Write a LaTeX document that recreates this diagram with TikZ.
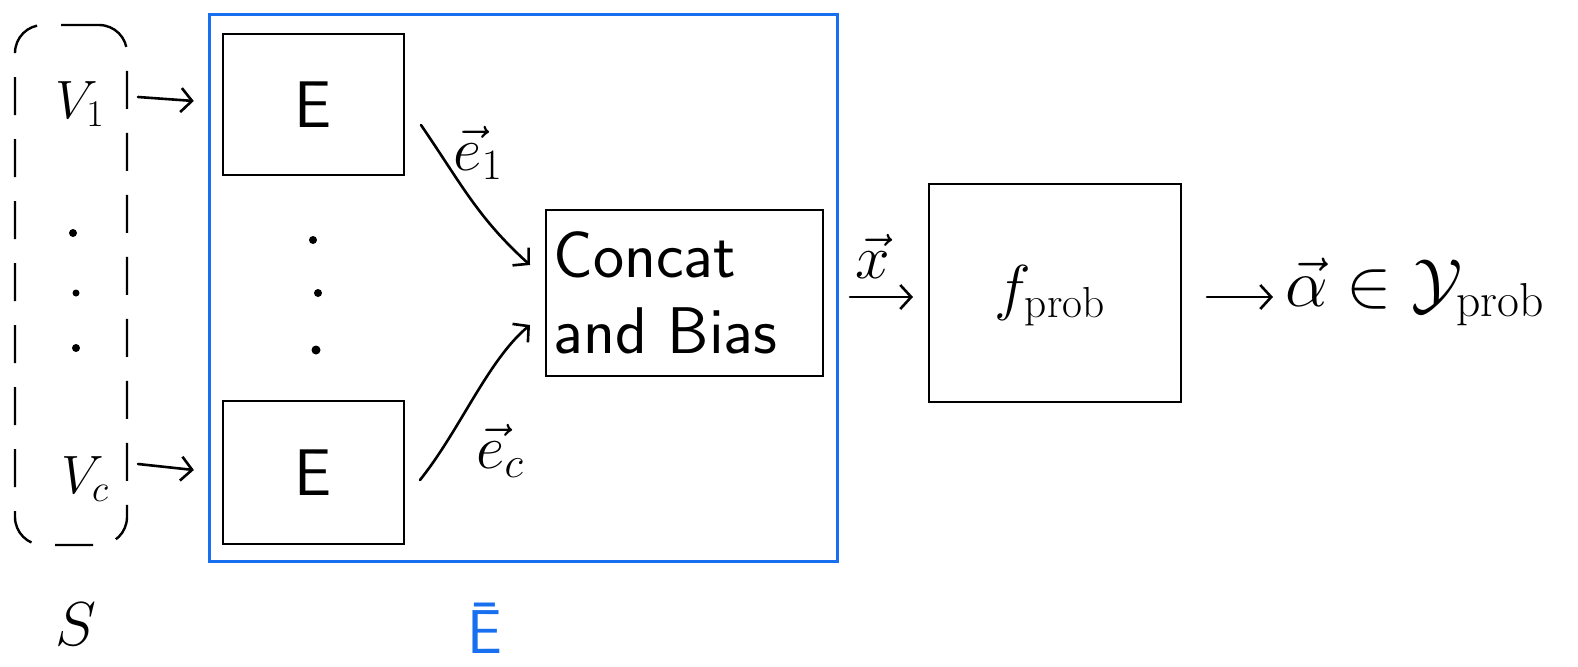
\RequirePackage{fix-cm}
\documentclass[tikz,border=0pt]{standalone}
\usepackage{fontspec}
\usetikzlibrary{arrows.meta}
\definecolor{penblue}{RGB}{24,112,240}
\begin{document}
\begin{tikzpicture}[x=1pt,y=-1pt,
  box/.style={draw, line width=2.6pt, inner sep=0pt},
  conn/.style={line width=2.6pt, line cap=round,
    -{Straight Barb[length=11pt,width=24pt,line width=2.6pt]}},
  big/.style={font=\fontsize{62}{70}\selectfont},
  mid/.style={font=\fontsize{54}{60}\selectfont}]
\useasboundingbox (0,0) rectangle (1578,666);

% the set S of visits
\node[draw, dashed, dash pattern=on 38pt off 24pt, line width=2.4pt,
      rounded corners=28pt, minimum width=112pt, minimum height=520pt] (S) at (71,285) {};
\node[mid, anchor=base] (v1) at (80,118) {$V_{1}$};
\node[mid, anchor=base] (vc) at (85,493) {$V_{c}$};
\node[circle, fill=black, inner sep=0pt, minimum size=8pt] (d1) at (73,233) {};
\node[circle, fill=black, inner sep=0pt, minimum size=7pt] (d2) at (76,293) {};
\node[circle, fill=black, inner sep=0pt, minimum size=8pt] (d3) at (76,348) {};
\node[big, anchor=base] (slabel) at (76,645) {$S$};

% the encoder block
\node[draw=penblue, line width=3pt, minimum width=628pt, minimum height=546pt] (enc) at (523,288) {};
\node[font=\fontsize{62}{70}\sffamily, text=penblue, anchor=base] (enclabel) at (485,653) {Ē};

\node[box, font=\fontsize{66}{70}\sffamily, minimum width=181pt, minimum height=141pt] (e1) at (313.5,104.5) {E};
\node[box, font=\fontsize{66}{70}\sffamily, minimum width=181pt, minimum height=143pt] (ec) at (313.5,472.5) {E};
\node[circle, fill=black, inner sep=0pt, minimum size=8pt] (m1) at (313,240) {};
\node[circle, fill=black, inner sep=0pt, minimum size=8pt] (m2) at (318,293) {};
\node[circle, fill=black, inner sep=0pt, minimum size=9pt] (m3) at (316,350) {};

\node[box, minimum width=277pt, minimum height=166pt] (cb) at (684.5,293) {};
\node[font=\fontsize{66}{76}\sffamily, align=left, anchor=west] (cbtext) at (550,293) {Concat\\and Bias};

% probability head
\node[box, minimum width=252pt, minimum height=218pt] (fp) at (1055,293) {};
\node[big, anchor=base] (fptext) at (1050,308) {$f_{\mathrm{prob}}$};

% connectors
\coordinate (v1s) at (138,97);
\coordinate (vcs) at (138,464);
\draw[conn, shorten >=28pt] (v1s) -- (e1.west |- 0,103);
\draw[conn, shorten >=28pt] (vcs) -- (ec.west |- 0,473);

\coordinate (e1s) at (421,125);
\coordinate (e1t) at (530,265);
\coordinate (ecs) at (420,480);
\coordinate (ect) at (530,325);
\draw[conn] (e1s) .. controls (462,185) and (478,218) .. (e1t);
\draw[conn] (ecs) .. controls (460,430) and (488,360) .. (ect);
\node[big, anchor=base] (e1lab) at (478,170) {$\vec{e}_{1}$};
\node[big, anchor=base] (eclab) at (500,468) {$\vec{e}_{c}$};

\coordinate (xs) at (850,297);
\coordinate (xt) at (913,297);
\draw[conn] (xs) -- (xt);
\node[big, anchor=base] (xlab) at (873,278) {$\vec{x}$};

\coordinate (os) at (1207,297);
\coordinate (ot) at (1273,297);
\draw[conn] (os) -- (ot);
\node[font=\fontsize{68}{74}\selectfont, anchor=base west, inner sep=0pt] (out) at (1285,306) {$\vec{\alpha}\in\mathcal{Y}_{\mathrm{prob}}$};
\end{tikzpicture}
\end{document}
